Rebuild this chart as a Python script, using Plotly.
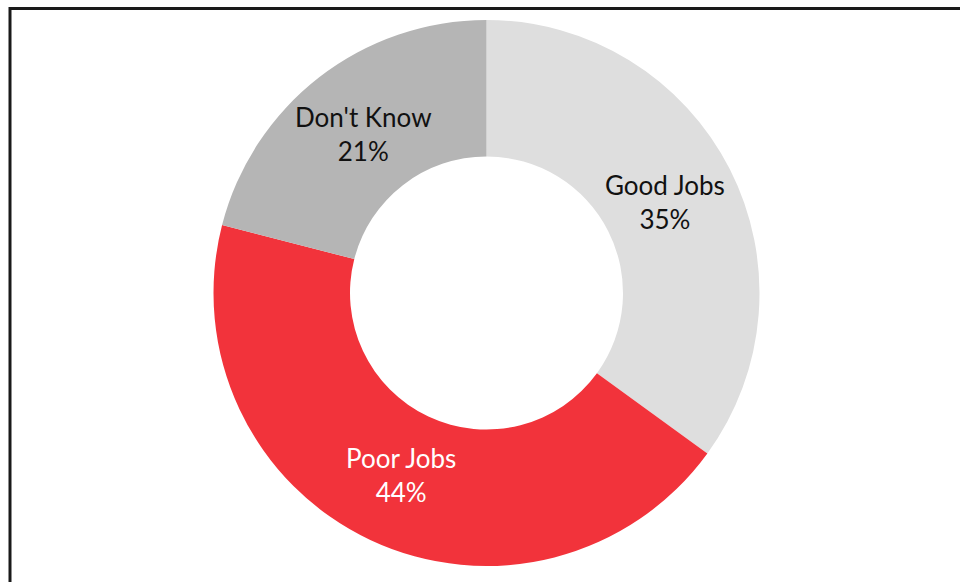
import math
import plotly.graph_objects as go

labels = ["Good Jobs", "Poor Jobs", "Don't Know"]
values = [35, 44, 21]
colors = ["#dedede", "#f2333b", "#b5b5b5"]
text_colors = ["#111111", "#ffffff", "#111111"]

W, H = 960, 582
cx, cy, r = 486.5, 293, 273
hole = 0.5

fig = go.Figure(go.Pie(
    labels=labels,
    values=values,
    hole=hole,
    sort=False,
    direction="clockwise",
    rotation=0,
    marker=dict(colors=colors, line=dict(width=0)),
    textinfo="none",
    hoverinfo="label+percent",
    domain=dict(x=[(cx - r) / W, (cx + r) / W], y=[1 - (cy + r) / H, 1 - (cy - r) / H]),
    showlegend=False,
))

# label annotations placed at the middle of each ring segment
total = sum(values)
annotations = []
cum = 0
rm = r * (1 + hole) / 2 - 4
for lab, v, tc in zip(labels, values, text_colors):
    mid = (cum + v / 2) / total * 2 * math.pi
    cum += v
    px = cx + rm * math.sin(mid)
    py = cy - rm * math.cos(mid)
    annotations.append(dict(
        x=px / W, y=1 - py / H, xref="paper", yref="paper",
        text=f"{lab}<br>{round(v / total * 100)}%",
        showarrow=False, xanchor="center", yanchor="middle",
        font=dict(family="Lato, sans-serif", size=26, color=tc),
    ))

fig.update_layout(
    width=W, height=H,
    margin=dict(l=0, r=0, t=0, b=0),
    paper_bgcolor="white",
    annotations=annotations,
    shapes=[dict(type="rect", xref="paper", yref="paper",
                 x0=10 / W, x1=1.05, y0=-0.05, y1=1 - 8.5 / H,
                 line=dict(color="#1a1a1a", width=3))],
)

fig.write_html("out.html")
